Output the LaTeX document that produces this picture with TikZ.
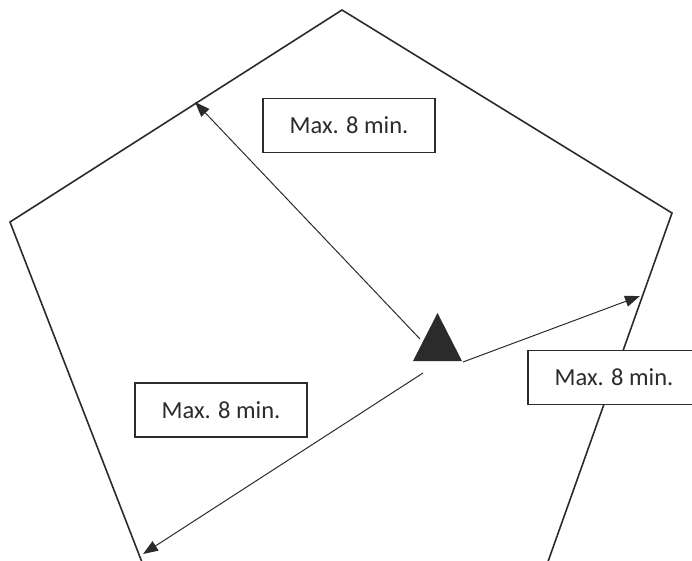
\documentclass[tikz,border=0pt]{standalone}
\usepackage{fontspec}
\setmainfont{Carlito}
\usetikzlibrary{arrows.meta,shapes.geometric}
\definecolor{ink}{HTML}{2B2B2B}
\begin{document}
\begin{tikzpicture}[x=1pt,y=-1pt,
  edge/.style={draw=ink,line width=1.6pt,line join=miter},
  reach/.style={draw=ink,line width=1pt,-{Triangle[length=15pt,width=11pt]}},
  label/.style={draw=ink,line width=1.1pt,fill=white,minimum width=172pt,minimum height=54pt,inner sep=0pt,text=ink,font=\fontsize{24.5}{28}\selectfont}]
\useasboundingbox (0,0) rectangle (692,560);
\clip (0,0) rectangle (692,560);
% pentagon
\coordinate (pTop) at (342,10);
\coordinate (pLeft) at (10,222);
\coordinate (pRight) at (672,213);
\coordinate (pBL) at (145,570);
\coordinate (pBR) at (545,570);
\draw[edge] (pBL) -- (pLeft) -- (pTop) -- (pRight) -- (pBR);
% site
\node[isosceles triangle,shape border rotate=90,isosceles triangle apex angle=53,
      isosceles triangle stretches,minimum width=49pt,minimum height=48pt,
      fill=ink,inner sep=0pt] (site) at (437.5,346) {};
\coordinate (s1) at (420,339);
\coordinate (s2) at (463,362);
\coordinate (s3) at (423,373);
\coordinate (t1) at (195,102);
\coordinate (t2) at (640,296);
\coordinate (t3) at (143,554);
\draw[reach] (s1) -- (t1);
\draw[reach] (s2) -- (t2);
\draw[reach] (s3) -- (t3);
% labels
\node[label] (lab1) at (349,125.5) {Max. 8 min.};
\node[label] (lab2) at (614,377.5) {Max. 8 min.};
\node[label] (lab3) at (221,410) {Max. 8 min.};
\end{tikzpicture}
\end{document}
